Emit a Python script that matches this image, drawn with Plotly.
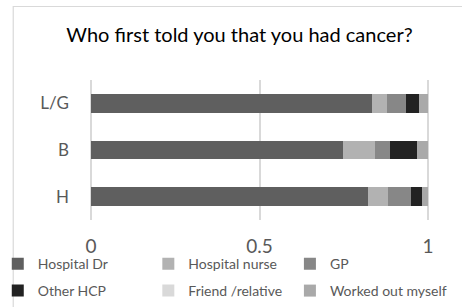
import plotly.graph_objects as go

categories = ["H", "B", "L/G"]
series_names = ["Hospital Dr", "Hospital nurse", "GP", "Other HCP", "Friend /relative", "Worked out myself"]
hospital_dr = [0.823, 0.748, 0.833]
hospital_nurse = [0.058, 0.095, 0.046]
gp = [0.068, 0.043, 0.057]
other_hcp = [0.033, 0.081, 0.036]
friend_relative = [0.0, 0.0, 0.0]
worked_out_myself = [0.018, 0.033, 0.028]
x_ticks = [0, 0.5, 1]
x_tick_labels = ["0", "0.5", "1"]

series_values = [hospital_dr, hospital_nurse, gp, other_hcp, friend_relative, worked_out_myself]
colors = ["#5f5f5f", "#b2b2b2", "#878787", "#222222", "#d9d9d9", "#a9a9a9"]

FONT = "Lato"
W, H = 462, 307
L, R, T, B = 89.5, 32.5, 79.5, 86.5
pw, ph = W - L - R, H - T - B
X0, X1 = -0.003, 1.003

def px_x(x):
    return (x - L) / pw

def px_y(y):
    return (H - B - y) / ph

# legend text left edges and row centres (pixels)
leg_text_x = [37, 188, 330]
leg_row_y = [265, 292]

fig = go.Figure()
legends = {}
for i, (name, vals, c) in enumerate(zip(series_names, series_values, colors)):
    key = "legend" if i == 0 else f"legend{i + 1}"
    fig.add_trace(go.Bar(y=categories, x=vals, name=name, orientation="h",
                         legend=key, marker=dict(color=c, line=dict(width=0))))
    legends[key] = dict(orientation="h", xref="paper", yref="paper",
                        x=px_x(leg_text_x[i % 3] - 40), xanchor="left",
                        y=px_y(leg_row_y[i // 3]), yanchor="middle",
                        font=dict(family=FONT, size=14, color="#595959"),
                        bgcolor="rgba(0,0,0,0)", borderwidth=0)

fig.update_layout(
    width=W, height=H,
    margin=dict(l=L, r=R, t=T, b=B, pad=0, autoexpand=False),
    barmode="stack", bargap=0.6,
    paper_bgcolor="white", plot_bgcolor="white",
    font=dict(family=FONT, color="#595959"),
    title=dict(text="Who first told you that you had cancer?", xref="container", x=239.5 / W,
               xanchor="center", y=1 - 35 / H, yanchor="middle",
               font=dict(family=FONT, size=20, color="#000000")),
    xaxis=dict(range=[X0, X1], tickvals=x_ticks, ticktext=x_tick_labels, showgrid=True,
               gridcolor="#d9d9d9", gridwidth=1.5, zeroline=False, showline=False,
               tickfont=dict(size=19, color="#595959"), ticks="", ticklabelstandoff=13,
               automargin=False),
    yaxis=dict(tickfont=dict(size=17, color="#595959"), ticks="", showgrid=False,
               showline=False, zeroline=False, ticklabelstandoff=20, automargin=False),
    showlegend=True,
    shapes=[dict(type="rect", xref="paper", yref="paper", x0=px_x(12.5), x1=px_x(470),
                 y0=px_y(320), y1=px_y(5.5), line=dict(color="#d9d9d9", width=1.2),
                 fillcolor="rgba(0,0,0,0)", layer="below")],
    **legends,
)
fig.write_html("out.html", config={"displayModeBar": False},
               post_script="document.body.style.margin='0';document.body.style.overflow='hidden';")
